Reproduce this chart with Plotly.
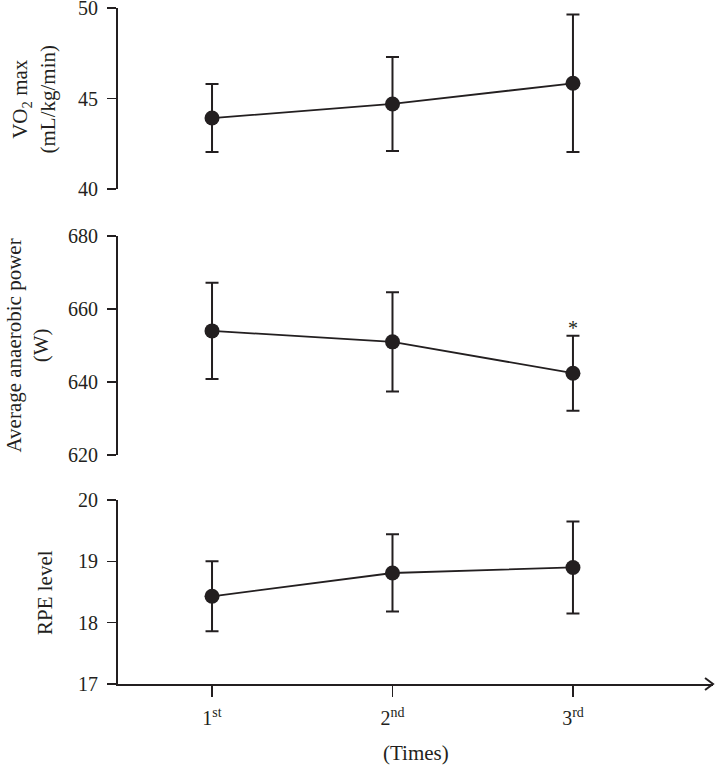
import plotly.graph_objects as go

times = [1, 2, 3]
time_labels = ["1<sup>st</sup>", "2<sup>nd</sup>", "3<sup>rd</sup>"]

vo2_mean = [43.92, 44.70, 45.84]
vo2_err = [1.88, 2.60, 3.80]

power_mean = [654.0, 651.0, 642.4]
power_err = [13.2, 13.6, 10.3]

rpe_mean = [18.43, 18.81, 18.90]
rpe_err = [0.57, 0.63, 0.75]

vo2_ticks = [40, 45, 50]
power_ticks = [620, 640, 660, 680]
rpe_ticks = [17, 18, 19, 20]

INK = "#231f20"
FONT = "Liberation Serif"

fig = go.Figure()

series = [
    (vo2_mean, vo2_err, "x", "y"),
    (power_mean, power_err, "x2", "y2"),
    (rpe_mean, rpe_err, "x3", "y3"),
]
for mean, err, xa, ya in series:
    fig.add_trace(go.Scatter(
        x=times, y=mean, xaxis=xa, yaxis=ya,
        mode="lines+markers",
        line=dict(color=INK, width=1.8),
        marker=dict(color=INK, size=15),
        error_y=dict(type="data", array=err, visible=True,
                     color=INK, thickness=2, width=6.5),
        showlegend=False, hoverinfo="skip", cliponaxis=False,
    ))

xrange = [0.479, 3.776]
dom_top = [0.7322, 1.0]
dom_mid = [0.3388, 0.6627]
dom_bot = [0.0, 0.2722]

yaxis_common = dict(
    showline=True, linewidth=2, linecolor=INK,
    ticks="outside", ticklen=9, tickwidth=1.5, tickcolor=INK,
    showgrid=False, zeroline=False, automargin=False,
    tickfont=dict(family=FONT, size=20, color=INK),
    ticklabelstandoff=5, ticklabeloverflow="allow",
)

fig.update_layout(
    width=716, height=784,
    margin=dict(l=118, r=3, t=8, b=100, autoexpand=False),
    paper_bgcolor="white", plot_bgcolor="white",
    font=dict(family=FONT, color=INK),
    xaxis=dict(domain=[0, 1], range=xrange, visible=False, anchor="y", automargin=False),
    xaxis2=dict(domain=[0, 1], range=xrange, visible=False, anchor="y2", automargin=False),
    xaxis3=dict(domain=[0, 1], range=xrange, anchor="y3", automargin=False,
                showline=True, linewidth=2, linecolor=INK,
                ticks="outside", ticklen=11, tickwidth=1.5, tickcolor=INK,
                tickvals=times, ticktext=time_labels,
                showgrid=False, zeroline=False,
                tickfont=dict(family=FONT, size=20, color=INK),
                ticklabelstandoff=4, ticklabeloverflow="allow"),
    yaxis=dict(domain=dom_top, range=[40, 50], tickvals=vo2_ticks, anchor="x", **yaxis_common),
    yaxis2=dict(domain=dom_mid, range=[620, 680], tickvals=power_ticks, anchor="x2", **yaxis_common),
    yaxis3=dict(domain=dom_bot, range=[17, 20], tickvals=rpe_ticks, anchor="x3", **yaxis_common),
)

# x-axis extension to the left and arrow head
fig.add_shape(type="line", xref="paper", yref="paper",
              x0=-0.0151, x1=0, y0=0, y1=0,
              line=dict(color=INK, width=2))
fig.add_shape(type="path", xref="paper", yref="paper",
              path="M 0.9866 0.0089 L 1 0 L 0.9866 -0.0089",
              line=dict(color=INK, width=2))

title_font = dict(family=FONT, size=21, color=INK)
fig.add_annotation(text="VO<sub>2</sub> max<br>(mL/kg/min)", textangle=-90,
                   xref="paper", yref="paper",
                   x=-0.1412, y=sum(dom_top) / 2, xanchor="center", yanchor="middle",
                   showarrow=False, font=title_font)
fig.add_annotation(text="Average anaerobic power<br>(W)", textangle=-90,
                   xref="paper", yref="paper",
                   x=-0.1529, y=sum(dom_mid) / 2, xanchor="center", yanchor="middle",
                   showarrow=False, font=title_font)
fig.add_annotation(text="RPE level", textangle=-90,
                   xref="paper", yref="paper",
                   x=-0.1227, y=sum(dom_bot) / 2, xanchor="center", yanchor="middle",
                   showarrow=False, font=title_font)
fig.add_annotation(text="(Times)", xref="paper", yref="paper",
                   x=0.5, y=-0.102, xanchor="center", yanchor="middle",
                   showarrow=False, font=title_font)

# significance marker
fig.add_annotation(text="*", xref="x2", yref="y2",
                   x=times[2], y=power_mean[2] + power_err[2],
                   xanchor="center", yanchor="bottom", yshift=-5,
                   showarrow=False, font=dict(family=FONT, size=20, color=INK))

fig.write_html(
    "out.html",
    config={"displayModeBar": False, "staticPlot": True},
    post_script="document.body.style.margin='0';document.body.style.overflow='hidden';",
)
